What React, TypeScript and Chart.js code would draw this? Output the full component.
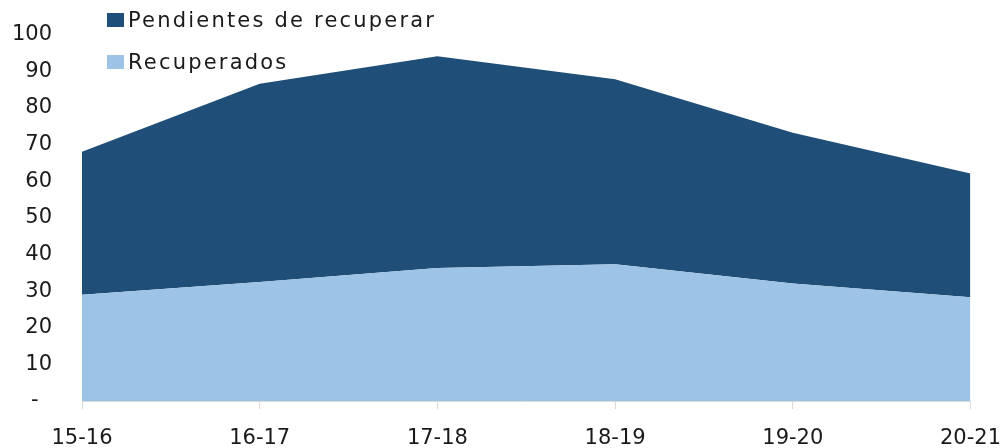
import React, { useEffect, useRef } from "react";
import { Chart, registerables } from "chart.js";

Chart.register(...registerables);

const categories = ["15-16", "16-17", "17-18", "18-19", "19-20", "20-21"];
const recuperados = [29.0, 32.5, 36.3, 37.3, 32.1, 28.3];
const pendientes = [39.0, 54.1, 57.8, 50.5, 41.1, 33.8];
const seriesNames = ["Pendientes de recuperar", "Recuperados"];
const seriesColors = ["#1F4E79", "#9DC3E6"];
const yTickLabels: Record<number, string> = { 0: "-  " };

const FONT = "'DejaVu Sans', sans-serif";

export default function App() {
  const ref = useRef<HTMLCanvasElement>(null);

  useEffect(() => {
    if (!ref.current) return;
    const chart = new Chart(ref.current, {
      type: "line",
      data: {
        labels: categories,
        datasets: [
          {
            label: seriesNames[1],
            data: recuperados,
            backgroundColor: seriesColors[1],
            borderColor: seriesColors[1],
            borderWidth: 0,
            pointRadius: 0,
            fill: "origin",
            tension: 0,
          },
          {
            label: seriesNames[0],
            data: pendientes,
            backgroundColor: seriesColors[0],
            borderColor: seriesColors[0],
            borderWidth: 0,
            pointRadius: 0,
            fill: "-1",
            tension: 0,
          },
        ],
      },
      options: {
        animation: false,
        responsive: true,
        maintainAspectRatio: false,
        layout: { padding: { top: 15, left: 0, right: 2, bottom: 0 } },
        plugins: {
          legend: { display: false },
          tooltip: { enabled: false },
        },
        scales: {
          x: {
            offset: false,
            grid: {
              display: true,
              drawOnChartArea: false,
              drawTicks: true,
              tickLength: 8,
              color: "#D9D9D9",
            },
            border: { display: true, color: "#D9D9D9" },
            afterFit: (axis: any) => {
              axis.height = 47;
            },
            ticks: {
              color: "#1a1a1a",
              font: { family: FONT, size: 21 },
              padding: 17,
              maxRotation: 0,
              autoSkip: false,
            },
          },
          y: {
            stacked: true,
            min: 0,
            max: 100,
            grid: { display: false },
            border: { display: false },
            afterFit: (axis: any) => {
              axis.width = 82;
            },
            ticks: {
              stepSize: 10,
              color: "#1a1a1a",
              font: { family: FONT, size: 21 },
              padding: 22,
              callback: (v: any) =>
                yTickLabels[v as number] !== undefined ? yTickLabels[v as number] : String(v),
            },
          },
        },
      },
    });
    return () => chart.destroy();
  }, []);

  const legendItems = [
    { name: seriesNames[0], color: seriesColors[0] },
    { name: seriesNames[1], color: seriesColors[1] },
  ];

  return (
    <div
      style={{
        position: "fixed",
        left: 0,
        top: 0,
        width: 1018,
        height: 448,
        background: "#fff",
      }}
    >
      <canvas ref={ref} />
      <div
        style={{
          position: "absolute",
          left: 107,
          top: -1,
          fontFamily: FONT,
          fontSize: 21,
          letterSpacing: "2.2px",
          color: "#1a1a1a",
        }}
      >
        {legendItems.map((it) => (
          <div key={it.name} style={{ display: "flex", alignItems: "center", height: 42 }}>
            <span style={{ display: "inline-block", width: 17, height: 14, background: it.color, marginRight: 4 }} />
            <span>{it.name}</span>
          </div>
        ))}
      </div>
    </div>
  );
}
